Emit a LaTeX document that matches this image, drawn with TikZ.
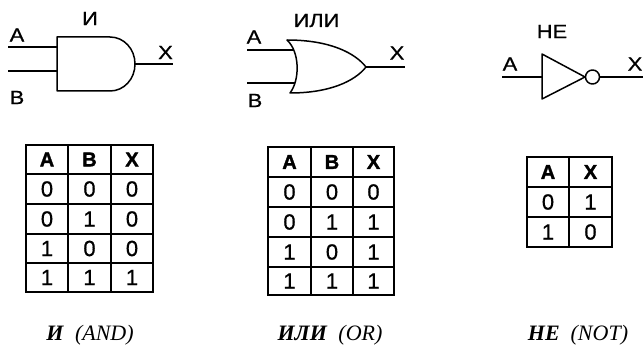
\documentclass[tikz,border=0pt]{standalone}
\usepackage{fontspec}
\setmainfont{Liberation Serif}
\setsansfont{Liberation Sans}
\newfontfamily\widesans[FakeStretch=1.15,FakeBold=0.8]{Liberation Sans}
\newfontfamily\heavysans[FakeBold=1.5]{Liberation Sans Bold}
\newfontfamily\digitsans[FakeBold=0.6]{Liberation Sans}
\usetikzlibrary{positioning}

\tikzset{
  gate/.style={line width=1.5pt, line join=round},
  wire/.style={line width=1.5pt},
  rule/.style={line width=1.5pt},
  pin/.style={font=\widesans\fontsize{19}{22}\selectfont, inner sep=0pt},
  head/.style={font=\heavysans\fontsize{20}{22}\selectfont, inner sep=0pt},
  cell/.style={font=\digitsans\fontsize{22}{24}\selectfont, inner sep=0pt},
  caption/.style={font=\fontsize{22}{24}\selectfont, inner sep=0pt, anchor=base}
}

\begin{document}
\begin{tikzpicture}[x=1pt,y=-1pt]
        \useasboundingbox (0,0) rectangle (643,347);
        % AND gate
        \coordinate (and-a-in) at (8,47);
        \coordinate (and-b-in) at (8,71);
        \coordinate (and-a) at (57,47);
        \coordinate (and-b) at (57,71);
        \coordinate (and-x) at (135,64);
        \coordinate (and-x-out) at (173,64);
        \draw[gate] (57,37) -- (110,37) .. controls (124,37) and (135,49) .. (and-x)
            .. controls (135,79) and (124,91) .. (110,91) -- (57,91) -- cycle;
        \draw[wire] (and-a-in) -- (and-a);
        \draw[wire] (and-b-in) -- (and-b);
        \draw[wire] (and-x) -- (and-x-out);
        \node[pin] at (90,18.5) (and-name) {И};
        \node[pin] at (17,35) (and-la) {A};
        \node[pin] at (17,97.5) (and-lb) {B};
        \node[pin] at (165.5,52.5) (and-lx) {X};
        % OR gate
        \coordinate (or-a-in) at (247,50);
        \coordinate (or-b-in) at (247,83);
        \coordinate (or-a) at (294,50);
        \coordinate (or-b) at (295,83);
        \coordinate (or-x) at (366,67);
        \coordinate (or-x-out) at (405,67);
        \draw[gate] (287,40) .. controls (330,40) and (355,53) .. (or-x)
            .. controls (355,81) and (330,93) .. (290,93)
            .. controls (300,80) and (300,52) .. cycle;
        \draw[wire] (or-a-in) -- (or-a);
        \draw[wire] (or-b-in) -- (or-b);
        \draw[wire] (or-x) -- (or-x-out);
        \node[pin] at (316.5,20.5) (or-name) {ИЛИ};
        \node[pin] at (254,37) (or-la) {A};
        \node[pin] at (255,100.5) (or-lb) {B};
        \node[pin] at (397,53) (or-lx) {X};
        % NOT gate
        \coordinate (not-a-in) at (502,77);
        \coordinate (not-a) at (542,77);
        \coordinate (not-x-out) at (643,77);
        \draw[gate] (542,54) -- (585,77) -- (542,99) -- cycle;
        \node[draw,circle,gate,minimum size=14pt,inner sep=0pt] at (592.5,77) (not-bubble) {};
        \draw[wire] (not-a-in) -- (not-a);
        \draw[wire] (not-bubble.east) -- (not-x-out);
        \node[pin] at (552,31.5) (not-name) {НЕ};
        \node[pin] at (510,64) (not-la) {A};
        \node[pin] at (635,64) (not-lx) {X};
        % AND table
        \draw[rule] (26,145) rectangle (153,292);
        \foreach \gx in {68,111} \draw[rule] (\gx,145) -- (\gx,292);
        \foreach \gy in {174,204,234,263} \draw[rule] (26,\gy) -- (153,\gy);
        \node[head] at (47,159.5) (and-ha) {A};
        \node[head] at (89.5,159.5) (and-hb) {B};
        \node[head] at (132,159.5) (and-hx) {X};
        \foreach \a/\b/\x/\y [count=\r] in {0/0/0/189,0/1/0/219,1/0/0/248.5,1/1/1/277.5} {
            \node[cell] at (47,\y) (and-a\r) {\a};
            \node[cell] at (89.5,\y) (and-b\r) {\b};
            \node[cell] at (132,\y) (and-x\r) {\x};
        }
        % OR table
        \draw[rule] (268,147) rectangle (394,295);
        \foreach \gx in {311,353} \draw[rule] (\gx,147) -- (\gx,295);
        \foreach \gy in {177,207,237,267} \draw[rule] (268,\gy) -- (394,\gy);
        \node[head] at (289.5,162) (or-ha) {A};
        \node[head] at (332,162) (or-hb) {B};
        \node[head] at (373.5,162) (or-hx) {X};
        \foreach \a/\b/\x/\y [count=\r] in {0/0/0/192,0/1/1/222,1/0/1/252,1/1/1/281} {
            \node[cell] at (289.5,\y) (or-a\r) {\a};
            \node[cell] at (332,\y) (or-b\r) {\b};
            \node[cell] at (373.5,\y) (or-x\r) {\x};
        }
        % NOT table
        \draw[rule] (527,157) rectangle (612,247);
        \draw[rule] (569,157) -- (569,247);
        \foreach \gy in {187,217} \draw[rule] (527,\gy) -- (612,\gy);
        \node[head] at (548,172) (not-ha) {A};
        \node[head] at (590.5,172) (not-hx) {X};
        \foreach \a/\x/\y [count=\r] in {0/1/202,1/0/232} {
            \node[cell] at (548,\y) (not-a\r) {\a};
            \node[cell] at (590.5,\y) (not-x\r) {\x};
        }
        % captions
        \node[caption] at (90,341) (and-cap) {\textbf{\textit{И}}\hspace{0.5em}\textit{(AND)}};
        \node[caption] at (330,341) (or-cap) {\textbf{\textit{ИЛИ}}\hspace{0.5em}\textit{(OR)}};
        \node[caption] at (578,341) (not-cap) {\textbf{\textit{НЕ}}\hspace{0.5em}\textit{(NOT)}};
    \end{tikzpicture}
\end{document}
